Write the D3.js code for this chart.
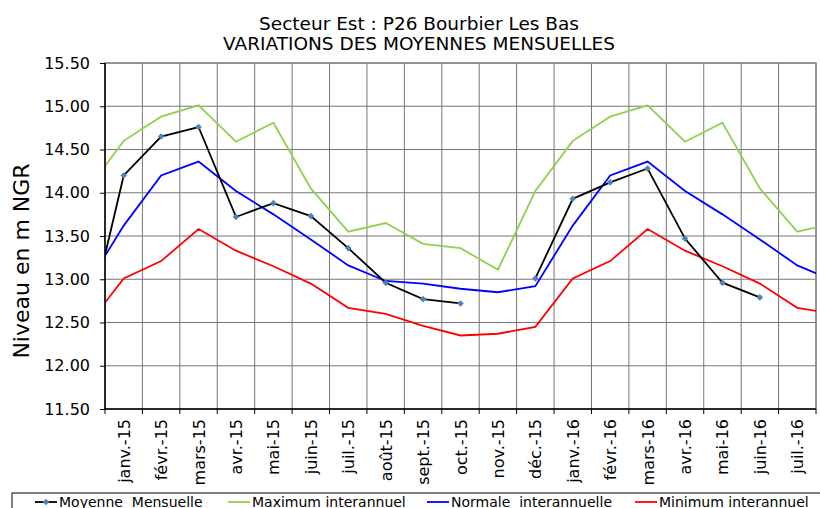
<!DOCTYPE html>
<html>
<head>
<meta charset="utf-8">
<script src="https://cdn.jsdelivr.net/npm/d3@7"></script>
<style>
  body { margin: 0; background: #fff; }
  svg { display: block; }
</style>
</head>
<body>
<svg id="chart"></svg>
<script>
// months shown on the axis (janv.-15 .. juil.-16); the series also carry déc.-14 and août-16,
// which sit half a band outside the plot and get clipped like the original
const months = ["janv.-15", "févr.-15", "mars-15", "avr.-15", "mai-15", "juin-15", "juil.-15",
  "août-15", "sept.-15", "oct.-15", "nov.-15", "déc.-15", "janv.-16", "févr.-16", "mars-16",
  "avr.-16", "mai-16", "juin-16", "juil.-16"];

// values from déc.-14 to août-16 (21 points), null = no measure
const moyenne = [12.36, 14.20, 14.65, 14.76, 13.72, 13.88, 13.73, 13.36, 12.96, 12.77, 12.72, null,
  13.01, 13.93, 14.12, 14.28, 13.47, 12.96, 12.79, null, null];
const maximum = [14.02, 14.60, 14.88, 15.01, 14.59, 14.81, 14.05, 13.55, 13.65, 13.41, 13.36, 13.11,
  14.02, 14.60, 14.88, 15.01, 14.59, 14.81, 14.05, 13.55, 13.65];
const normale = [12.92, 13.62, 14.20, 14.36, 14.02, 13.75, 13.46, 13.16, 12.98, 12.95, 12.89, 12.85,
  12.92, 13.62, 14.20, 14.36, 14.02, 13.75, 13.46, 13.16, 12.98];
const minimum = [12.45, 13.01, 13.21, 13.58, 13.33, 13.15, 12.95, 12.67, 12.60, 12.46, 12.35, 12.37,
  12.45, 13.01, 13.21, 13.58, 13.33, 13.15, 12.95, 12.67, 12.60];

const yTicks = [11.5, 12, 12.5, 13, 13.5, 14, 14.5, 15, 15.5];

const width = 820, height = 508;
const margin = { top: 63, right: 4, bottom: 99, left: 105 };

const svg = d3.select("#chart")
  .attr("width", width)
  .attr("height", height);

const innerW = width - margin.left - margin.right;
const innerH = height - margin.top - margin.bottom;

const g = svg.append("g").attr("transform", `translate(${margin.left},${margin.top})`);

// index -1 = déc.-14, 0 = janv.-15 ...
const x = d3.scaleLinear().domain([-0.5, months.length - 0.5]).range([0, innerW]);
const y = d3.scaleLinear().domain([11.5, 15.5]).range([innerH, 0]);

// gridlines
g.append("g")
  .selectAll("line")
  .data(d3.range(1, months.length + 1))
  .enter().append("line")
  .attr("x1", d => x(d - 0.5)).attr("x2", d => x(d - 0.5))
  .attr("y1", 0).attr("y2", innerH)
  .attr("stroke", "#777").attr("stroke-width", 1);

g.append("g")
  .selectAll("line")
  .data(yTicks.slice(1))
  .enter().append("line")
  .attr("x1", 0).attr("x2", innerW)
  .attr("y1", d => y(d)).attr("y2", d => y(d))
  .attr("stroke", "#777").attr("stroke-width", 1);

// plot border top/right
g.append("rect")
  .attr("x", 0).attr("y", 0)
  .attr("width", innerW).attr("height", innerH)
  .attr("fill", "none").attr("stroke", "#888").attr("stroke-width", 1.5);

// clipped series
svg.append("clipPath").attr("id", "clip")
  .append("rect").attr("width", innerW).attr("height", innerH);

const plot = g.append("g").attr("clip-path", "url(#clip)");

const line = d3.line()
  .defined(d => d != null)
  .x((d, i) => x(i - 1))
  .y(d => y(d));

const series = [
  { name: "Maximum interannuel", values: maximum, color: "#92D050" },
  { name: "Normale  interannuelle", values: normale, color: "#0000FF" },
  { name: "Minimum interannuel", values: minimum, color: "#FF0000" },
  { name: "Moyenne  Mensuelle", values: moyenne, color: "#000000" }
];

series.forEach(s => {
  plot.append("path")
    .datum(s.values)
    .attr("d", line)
    .attr("fill", "none")
    .attr("stroke", s.color)
    .attr("stroke-width", 1.8);
});

// Excel style diamond: a square turned 45 degrees
const diamond = d3.symbol().type(d3.symbolSquare).size(22);

plot.selectAll(".pt")
  .data(moyenne.map((v, i) => ({ v, i })).filter(d => d.v != null))
  .enter().append("path")
  .attr("class", "pt")
  .attr("d", diamond)
  .attr("transform", d => `translate(${x(d.i - 1)},${y(d.v)}) rotate(45)`)
  .attr("fill", "#4F81BD");

// y axis
const yAxis = g.append("g")
  .call(d3.axisLeft(y).tickValues(yTicks).tickFormat(d3.format(".2f")).tickSize(5).tickPadding(10));
yAxis.select(".domain").attr("stroke", "#000").attr("stroke-width", 1.5).attr("d", `M0,0V${innerH}`);
yAxis.selectAll(".tick line").attr("stroke", "#000");
yAxis.selectAll("text")
  .attr("font-family", "'DejaVu Sans', Verdana, sans-serif")
  .attr("font-size", 16).attr("fill", "#000");

// x axis: ticks at band boundaries, labels at band centers
const xAxis = g.append("g").attr("transform", `translate(0,${innerH})`);
xAxis.append("line")
  .attr("x1", 0).attr("x2", innerW)
  .attr("stroke", "#000").attr("stroke-width", 1.5);
xAxis.selectAll(".xt")
  .data(d3.range(0, months.length + 1))
  .enter().append("line")
  .attr("x1", d => x(d - 0.5)).attr("x2", d => x(d - 0.5))
  .attr("y1", 0).attr("y2", 5)
  .attr("stroke", "#000");
xAxis.selectAll("text")
  .data(months)
  .enter().append("text")
  .attr("transform", (d, i) => `translate(${x(i) + 6},10) rotate(-90)`)
  .attr("text-anchor", "end")
  .attr("font-family", "'DejaVu Sans', Verdana, sans-serif")
  .attr("font-size", 16)
  .text(d => d);

// y axis title
svg.append("text")
  .attr("transform", `translate(29,261) rotate(-90)`)
  .attr("text-anchor", "middle")
  .attr("font-family", "'DejaVu Sans', Verdana, sans-serif")
  .attr("font-size", 22)
  .text("Niveau en m NGR");

// title
const title = svg.append("text")
  .attr("text-anchor", "middle")
  .attr("font-family", "'DejaVu Sans', sans-serif")
  .attr("font-size", 18.5);
title.append("tspan").attr("x", 419).attr("y", 30).text("Secteur Est : P26 Bourbier Les Bas");
title.append("tspan").attr("x", 419).attr("y", 50).text("VARIATIONS DES MOYENNES MENSUELLES");

// legend (cut by the bottom edge like the original)
const legend = svg.append("g");
legend.append("rect")
  .attr("x", 12).attr("y", 493)
  .attr("width", 820).attr("height", 40)
  .attr("fill", "#fff").attr("stroke", "#000").attr("stroke-width", 1);

const legendItems = [series[3], series[0], series[1], series[2]];
const legendX = [35, 228, 427, 635];

legendItems.forEach((s, i) => {
  const lg = legend.append("g").attr("transform", `translate(${legendX[i]},502)`);
  lg.append("line").attr("x1", 0).attr("x2", 22)
    .attr("stroke", s.color).attr("stroke-width", 1.8);
  if (s.name.startsWith("Moyenne")) {
    lg.append("path").attr("d", diamond).attr("transform", "translate(11,0) rotate(45)").attr("fill", "#4F81BD");
  }
  lg.append("text")
    .attr("x", 24).attr("y", 5)
    .attr("font-family", "'DejaVu Sans', Verdana, sans-serif")
    .attr("font-size", 14)
    .style("white-space", "pre")
    .text(s.name);
});
</script>
</body>
</html>
